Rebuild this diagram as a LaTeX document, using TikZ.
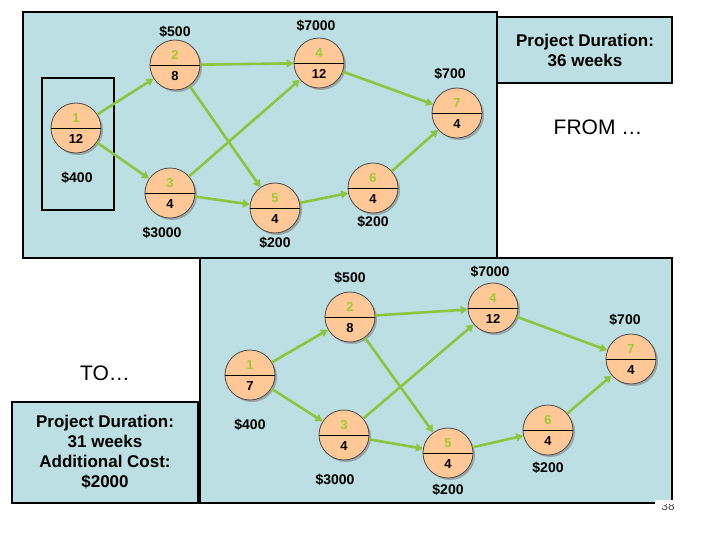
\documentclass[tikz,border=0pt]{standalone}
\usepackage{fontspec}
\setmainfont{Liberation Sans}
\usetikzlibrary{arrows.meta,shadows,calc}
\definecolor{panel}{HTML}{BCDFE3}
\definecolor{peach}{HTML}{FFC896}
\definecolor{grn}{HTML}{99CC33}
\definecolor{arr}{HTML}{8CC63F}
\tikzset{
 ev/.style={circle,minimum size=50pt,inner sep=0pt,fill=peach,draw=black!70,line width=0.8pt,
   drop shadow={shadow xshift=2pt,shadow yshift=-2pt,fill=black!50,opacity=0.6}},
 cost/.style={font=\fontsize{14}{16}\selectfont\bfseries},
 con/.style={draw=arr,line width=2.6pt,-{Triangle[length=7pt,width=8pt]}},
 big/.style={font=\fontsize{17}{20}\selectfont\bfseries,align=center},
}
\newcommand{\evnode}[5]{%
 \node[ev] (#1) at (#2,-#3) {};
 \draw[black,line width=0.8pt] (#1.west) -- (#1.east);
 \node[text=grn,font=\fontsize{13}{13}\selectfont\bfseries] at ($(#1)+(0,10)$) {#4};
 \node[font=\fontsize{13}{13}\selectfont\bfseries] at ($(#1)+(0,-11)$) {#5};}
\begin{document}
\begin{tikzpicture}[x=1pt,y=1pt]
\useasboundingbox (0,0) rectangle (720,-540);
% top panel
\draw[fill=panel,line width=1.5pt] (23,-12) rectangle (497,-258);
\draw[fill=panel,line width=1.5pt] (497,-17) rectangle (672,-83);
\node[big] (pd1) at (585,-50) {Project Duration:\\36 weeks};
\node[font=\fontsize{21}{24}\selectfont] (from) at (598,-127) {FROM …};
\draw[line width=1.5pt] (42,-78) rectangle (114,-210);
\evnode{a1}{76}{128}{1}{12}
\evnode{a2}{175}{65}{2}{8}
\evnode{a4}{319}{63}{4}{12}
\evnode{a7}{457}{113}{7}{4}
\evnode{a3}{170}{193}{3}{4}
\evnode{a5}{275}{208}{5}{4}
\evnode{a6}{373}{188}{6}{4}
\node[cost] at (175,-32) {\$500};
\node[cost] at (316,-26) {\$7000};
\node[cost] at (450,-74) {\$700};
\node[cost] at (77,-178) {\$400};
\node[cost] at (162,-233) {\$3000};
\node[cost] at (275,-243) {\$200};
\node[cost] at (373,-222) {\$200};
\foreach \s/\t in {a1/a2,a1/a3,a2/a4,a2/a5,a3/a4,a3/a5,a4/a7,a5/a6,a6/a7}
  \draw[con] (\s) -- (\t);
% bottom panel
\draw[fill=panel,line width=1.5pt] (200,-258) rectangle (672,-503);
\draw[fill=panel,line width=1.5pt] (12,-402) rectangle (198,-503);
\node[font=\fontsize{21}{24}\selectfont] (to) at (105,-373) {TO…};
\node[big] (pd2) at (105,-452) {Project Duration:\\31 weeks\\Additional Cost:\\\$2000};
\evnode{b1}{250}{375}{1}{7}
\evnode{b2}{350}{317}{2}{8}
\evnode{b4}{493}{308}{4}{12}
\evnode{b7}{631}{359}{7}{4}
\evnode{b3}{344}{435}{3}{4}
\evnode{b5}{448}{453}{5}{4}
\evnode{b6}{548}{430}{6}{4}
\node[cost] at (350,-278) {\$500};
\node[cost] at (490,-272) {\$7000};
\node[cost] at (625,-320) {\$700};
\node[cost] at (250,-425) {\$400};
\node[cost] at (335,-480) {\$3000};
\node[cost] at (448,-490) {\$200};
\node[cost] at (548,-468) {\$200};
\foreach \s/\t in {b1/b2,b1/b3,b2/b4,b2/b5,b3/b4,b3/b5,b4/b7,b5/b6,b6/b7}
  \draw[con] (\s) -- (\t);
\node[font=\fontsize{12}{12}\selectfont,text=black!70] (pg) at (668,-506) {38};
\fill[white] (655,-504) rectangle (680,-500);
\end{tikzpicture}
\end{document}
